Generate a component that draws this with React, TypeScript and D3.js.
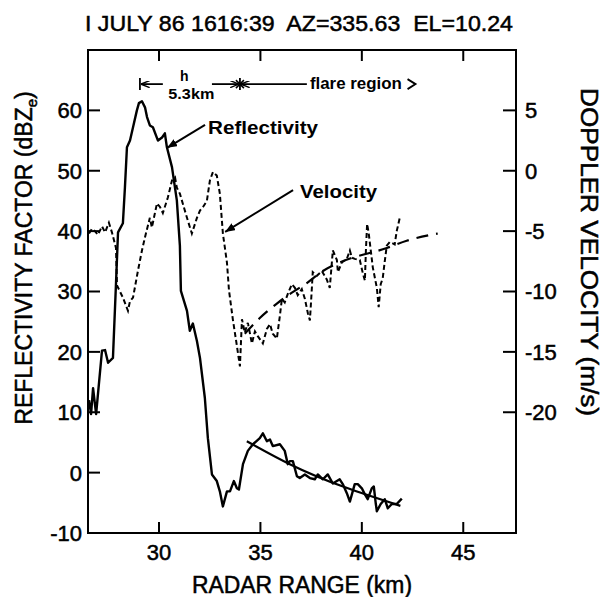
import React from 'react';
import * as d3 from 'd3';

const W = 604;
const H = 597;

const RANGE_TICKS = [30, 35, 40, 45];
const DBZ_TICKS = [-10, 0, 10, 20, 30, 40, 50, 60];
const VEL_TICKS = [5, 0, -5, -10, -15, -20];

// Reflectivity (solid): range km, dBZe
const reflRange = [26.55, 26.65, 26.75, 26.9, 27.19, 27.34, 27.49, 27.73, 27.88, 27.98, 28.22, 28.32, 28.42, 28.57, 28.72, 28.91, 29.01, 29.16, 29.31, 29.41, 29.55, 29.7, 29.95, 30.15, 30.29, 30.39, 30.64, 30.88, 31.03, 31.08, 31.38, 31.52, 31.67, 31.87, 32.02, 32.26, 32.41, 32.61, 32.85, 33.0, 33.15, 33.35, 33.5, 33.69, 33.84, 33.94, 34.14, 34.38, 34.63, 34.97, 35.12, 35.32, 35.47, 35.61, 35.96, 36.2, 36.35, 36.45, 36.6, 36.8, 36.94, 37.19, 37.44, 37.68, 37.83, 38.08, 38.32, 38.57, 38.91, 39.06, 39.26, 39.41, 39.65, 39.8, 40.0, 40.15, 40.29, 40.49, 40.59, 40.69, 40.74, 40.93, 41.13, 41.28, 41.48, 41.72, 41.97];
const reflDbz = [12.0, 9.7, 14.0, 9.7, 20.2, 20.3, 18.2, 19.0, 31.3, 39.8, 41.3, 47.2, 53.9, 55.0, 57.2, 60.0, 61.2, 61.5, 60.5, 58.9, 57.5, 57.2, 55.0, 55.5, 56.2, 53.9, 50.6, 45.1, 37.6, 30.1, 26.8, 23.5, 24.7, 21.8, 19.0, 12.4, 5.7, -0.3, -1.4, -3.1, -5.6, -3.1, -3.1, -1.4, -2.6, -2.8, 1.4, 3.6, 4.7, 5.7, 6.5, 5.2, 5.5, 4.4, 4.7, 3.6, 1.4, 1.9, 1.9, -0.6, -0.9, -0.3, -0.9, -1.1, -0.3, -1.1, -0.3, -1.8, -1.1, -1.9, -3.4, -4.8, -1.9, -1.9, -2.6, -3.6, -4.4, -2.6, -2.3, -5.2, -6.4, -5.2, -4.4, -5.9, -5.2, -5.2, -4.3];

// Doppler velocity (short dashes): range km, m/s
const velRange = [26.55, 26.7, 26.84, 26.99, 27.19, 27.34, 27.53, 27.68, 27.88, 27.93, 28.22, 28.47, 28.57, 28.72, 28.96, 29.16, 29.31, 29.55, 29.65, 29.9, 30.05, 30.19, 30.44, 30.64, 30.79, 30.88, 31.03, 31.38, 31.62, 31.87, 32.02, 32.17, 32.36, 32.51, 32.66, 32.85, 33.0, 33.15, 33.35, 33.45, 33.64, 33.84, 33.99, 34.09, 34.23, 34.38, 34.58, 34.73, 34.87, 35.12, 35.32, 35.47, 35.61, 35.81, 35.96, 36.06, 36.2, 36.35, 36.55, 36.7, 36.84, 37.04, 37.19, 37.34, 37.44, 37.53, 37.58, 37.78, 38.03, 38.27, 38.42, 38.57, 38.77, 38.82, 39.01, 39.26, 39.41, 39.51, 39.65, 39.9, 40.05, 40.15, 40.2, 40.26, 40.34, 40.44, 40.54, 40.74, 40.83, 40.93, 41.03, 41.13, 41.23, 41.38, 41.62, 41.72, 41.87];
const velMs = [-5.2, -4.8, -5.0, -5.3, -4.6, -5.1, -4.3, -5.1, -6.4, -9.5, -10.5, -11.6, -10.8, -10.5, -8.3, -6.6, -5.5, -3.9, -4.7, -2.7, -3.0, -3.5, -2.2, -0.8, -0.55, -1.4, -1.9, -3.9, -5.2, -3.9, -3.3, -3.0, -2.5, -0.8, -0.1, -0.4, -1.9, -5.2, -7.6, -9.9, -12.3, -14.5, -16.2, -12.3, -13.4, -12.6, -14.3, -13.3, -13.7, -14.3, -13.1, -12.7, -13.5, -13.9, -12.0, -10.6, -10.9, -10.2, -9.4, -9.7, -10.3, -9.8, -10.6, -11.8, -12.4, -9.9, -8.4, -8.7, -8.3, -9.0, -9.7, -6.6, -7.4, -8.4, -7.6, -7.3, -6.6, -7.2, -7.3, -7.4, -8.5, -9.1, -6.6, -4.4, -5.2, -6.6, -8.0, -9.7, -11.3, -9.4, -8.9, -7.5, -6.2, -5.9, -6.1, -5.0, -3.9];

// Fitted trends
const reflFitRange = [34.33, 36.45, 41.9];
const reflFitDbz = [5.2, 1.4, -5.5];
const velFitRange = [34.23, 34.97, 35.81, 36.55, 37.29, 38.08, 38.91, 41.23, 42.21, 43.74];
const velFitMs = [-13.5, -12.2, -11.0, -10.1, -9.3, -8.3, -7.6, -6.4, -5.8, -5.2];

// Annotation anchors (data units)
const ANNOT_DBZ = 64.35;
const H_LEFT = 29.06;
const H_LEFT_END = 30.19;
const H_MID = 31.25;
const H_RIGHT_START = 32.61;
const STAR_KM = 33.99;
const FLARE_LINE_END = 37.29;
const FLARE_TEXT = 37.44;
const FLARE_ARROW = 42.45;
const REFL_ARROW = { from: [32.27, 57.6], to: [30.4, 53.8] };
const VEL_ARROW = { from: [36.61, -1.6], to: [33.26, -5.07] };

const FONT = "'Liberation Sans', Arial, Helvetica, sans-serif";

export default function App() {
  const x = d3.scaleLinear().domain([26.5, 47.6]).range([88, 516]);
  const y = d3.scaleLinear().domain([-10, 70]).range([533, 50]);
  const yv = d3.scaleLinear().domain([-30, 10]).range([533, 50]);

  const lineD = d3.line<number>().x((_, i) => x(reflRange[i])).y((d) => y(d));
  const lineV = d3.line<number>().x((_, i) => x(velRange[i])).y((d) => yv(d));
  const fitD = d3
    .line<number>()
    .x((_, i) => x(reflFitRange[i]))
    .y((d) => y(d))
    .curve(d3.curveMonotoneX);
  const fitV = d3
    .line<number>()
    .x((_, i) => x(velFitRange[i]))
    .y((d) => yv(d))
    .curve(d3.curveMonotoneX);

  const [x0, x1] = x.range();
  const [yb, yt] = y.range();
  const ay = y(ANNOT_DBZ);
  const sx = x(STAR_KM);

  const textStyle = { fontFamily: FONT, fill: '#000', stroke: '#000', strokeWidth: 0.5 } as const;

  return (
    <svg
      width={W}
      height={H}
      viewBox={`0 0 ${W} ${H}`}
      style={{ position: 'absolute', left: 0, top: 0, background: '#fff' }}
    >
      <defs>
        <marker id="ah" viewBox="0 0 10 8" refX="10" refY="4" markerWidth="10" markerHeight="8" markerUnits="userSpaceOnUse" orient="auto">
          <path d="M0,0 L10,4 L0,8 z" fill="#000" />
        </marker>
        <marker id="ah2" viewBox="0 0 10 8" refX="10" refY="4" markerWidth="9" markerHeight="7" markerUnits="userSpaceOnUse" orient="auto">
          <path d="M0,0 L10,4 L0,8" fill="none" stroke="#000" strokeWidth="1.6" />
        </marker>
      </defs>
      <rect width={W} height={H} fill="#fff" />

      {/* Title */}
      <text x={299} y={31} textAnchor="middle" fontSize={22} textLength={428} lengthAdjust="spacingAndGlyphs" style={{ ...textStyle, whiteSpace: 'pre' }}>
        {'I JULY 86 1616:39  AZ=335.63  EL=10.24'}
      </text>

      {/* Frame */}
      <rect x={x0} y={yt} width={x1 - x0} height={yb - yt} fill="none" stroke="#000" strokeWidth={2} />

      {/* Bottom and top ticks */}
      {RANGE_TICKS.map((t) => (
        <g key={'xt' + t}>
          <line x1={x(t)} x2={x(t)} y1={yb} y2={yb - 11} stroke="#000" strokeWidth={2} />
          <line x1={x(t)} x2={x(t)} y1={yt} y2={yt + 11} stroke="#000" strokeWidth={2} />
          <text x={x(t)} y={560} textAnchor="middle" fontSize={22} style={textStyle}>
            {t}
          </text>
        </g>
      ))}

      {/* Left ticks */}
      {DBZ_TICKS.map((t) => (
        <g key={'yl' + t}>
          <line x1={x0} x2={x0 + 12} y1={y(t)} y2={y(t)} stroke="#000" strokeWidth={2} />
          <text x={82} y={y(t)} dy="0.36em" textAnchor="end" fontSize={22} style={textStyle}>
            {t}
          </text>
        </g>
      ))}

      {/* Right ticks */}
      {VEL_TICKS.map((t) => (
        <g key={'yr' + t}>
          <line x1={x1} x2={x1 - 13} y1={yv(t)} y2={yv(t)} stroke="#000" strokeWidth={2} />
          <text x={525} y={yv(t)} dy="0.36em" textAnchor="start" fontSize={22} style={textStyle}>
            {t}
          </text>
        </g>
      ))}

      {/* Axis titles */}
      <text x={302} y={593} textAnchor="middle" fontSize={23} textLength={220} lengthAdjust="spacingAndGlyphs" style={textStyle}>
        RADAR RANGE (km)
      </text>
      <text transform="translate(32,258) rotate(-90)" textAnchor="middle" fontSize={23} style={textStyle}>
        REFLECTIVITY FACTOR (dBZ
        <tspan fontSize={15} dy={5}>e</tspan>
        <tspan dy={-5}>)</tspan>
      </text>
      <text transform="translate(581,252) rotate(90)" textAnchor="middle" fontSize={23} textLength={328} lengthAdjust="spacingAndGlyphs" style={textStyle}>
        DOPPLER VELOCITY (m/s)
      </text>

      {/* Data curves */}
      <path d={lineD(reflDbz) || ''} fill="none" stroke="#000" strokeWidth={2.4} strokeLinejoin="round" />
      <path d={fitD(reflFitDbz) || ''} fill="none" stroke="#000" strokeWidth={2.2} />
      <path d={lineV(velMs) || ''} fill="none" stroke="#000" strokeWidth={2} strokeDasharray="5,3" />
      <path d={fitV(velFitMs) || ''} fill="none" stroke="#000" strokeWidth={2.2} strokeDasharray="12,8" />

      {/* Curve labels */}
      <line
        x1={x(REFL_ARROW.from[0])}
        y1={y(REFL_ARROW.from[1])}
        x2={x(REFL_ARROW.to[0])}
        y2={y(REFL_ARROW.to[1])}
        stroke="#000"
        strokeWidth={2}
        markerEnd="url(#ah)"
      />
      <text x={x(REFL_ARROW.from[0]) + 3} y={y(REFL_ARROW.from[1]) + 9} fontSize={19} fontWeight="bold" textLength={110} lengthAdjust="spacingAndGlyphs" style={{ fontFamily: FONT }}>
        Reflectivity
      </text>
      <line
        x1={x(VEL_ARROW.from[0])}
        y1={yv(VEL_ARROW.from[1])}
        x2={x(VEL_ARROW.to[0])}
        y2={yv(VEL_ARROW.to[1])}
        stroke="#000"
        strokeWidth={2}
        markerEnd="url(#ah)"
      />
      <text x={x(VEL_ARROW.from[0]) + 7} y={yv(VEL_ARROW.from[1]) + 8} fontSize={19} fontWeight="bold" textLength={77} lengthAdjust="spacingAndGlyphs" style={{ fontFamily: FONT }}>
        Velocity
      </text>

      {/* h / flare region annotation */}
      <line x1={x(H_LEFT)} x2={x(H_LEFT)} y1={ay - 6} y2={ay + 6} stroke="#000" strokeWidth={1.8} />
      <line x1={x(H_LEFT_END)} x2={x(H_LEFT) + 1} y1={ay} y2={ay} stroke="#000" strokeWidth={1.8} markerEnd="url(#ah2)" />
      <text x={x(H_MID)} y={ay - 3} textAnchor="middle" fontSize={14} fontWeight="bold" style={{ fontFamily: FONT }}>
        h
      </text>
      <text x={x(H_MID) + 7} y={ay + 15} textAnchor="middle" fontSize={15} fontWeight="bold" textLength={46} lengthAdjust="spacingAndGlyphs" style={{ fontFamily: FONT }}>
        5.3km
      </text>
      <line x1={x(H_RIGHT_START)} x2={sx - 1} y1={ay} y2={ay} stroke="#000" strokeWidth={1.8} markerEnd="url(#ah2)" />
      <line x1={x(FLARE_LINE_END)} x2={sx + 1} y1={ay} y2={ay} stroke="#000" strokeWidth={1.8} markerEnd="url(#ah2)" />
      <line x1={sx} x2={sx} y1={ay - 6} y2={ay + 6} stroke="#000" strokeWidth={1.8} />
      <line x1={sx - 4} x2={sx + 4} y1={ay - 4} y2={ay + 4} stroke="#000" strokeWidth={1.5} />
      <line x1={sx - 4} x2={sx + 4} y1={ay + 4} y2={ay - 4} stroke="#000" strokeWidth={1.5} />
      <text x={x(FLARE_TEXT)} y={ay + 5} fontSize={16} fontWeight="bold" textLength={92} lengthAdjust="spacingAndGlyphs" style={{ fontFamily: FONT }}>
        flare region
      </text>
      <path
        d={`M${x(FLARE_ARROW) - 4},${ay - 5} L${x(FLARE_ARROW) + 4},${ay} L${x(FLARE_ARROW) - 4},${ay + 5}`}
        fill="none"
        stroke="#000"
        strokeWidth={1.8}
      />
    </svg>
  );
}
